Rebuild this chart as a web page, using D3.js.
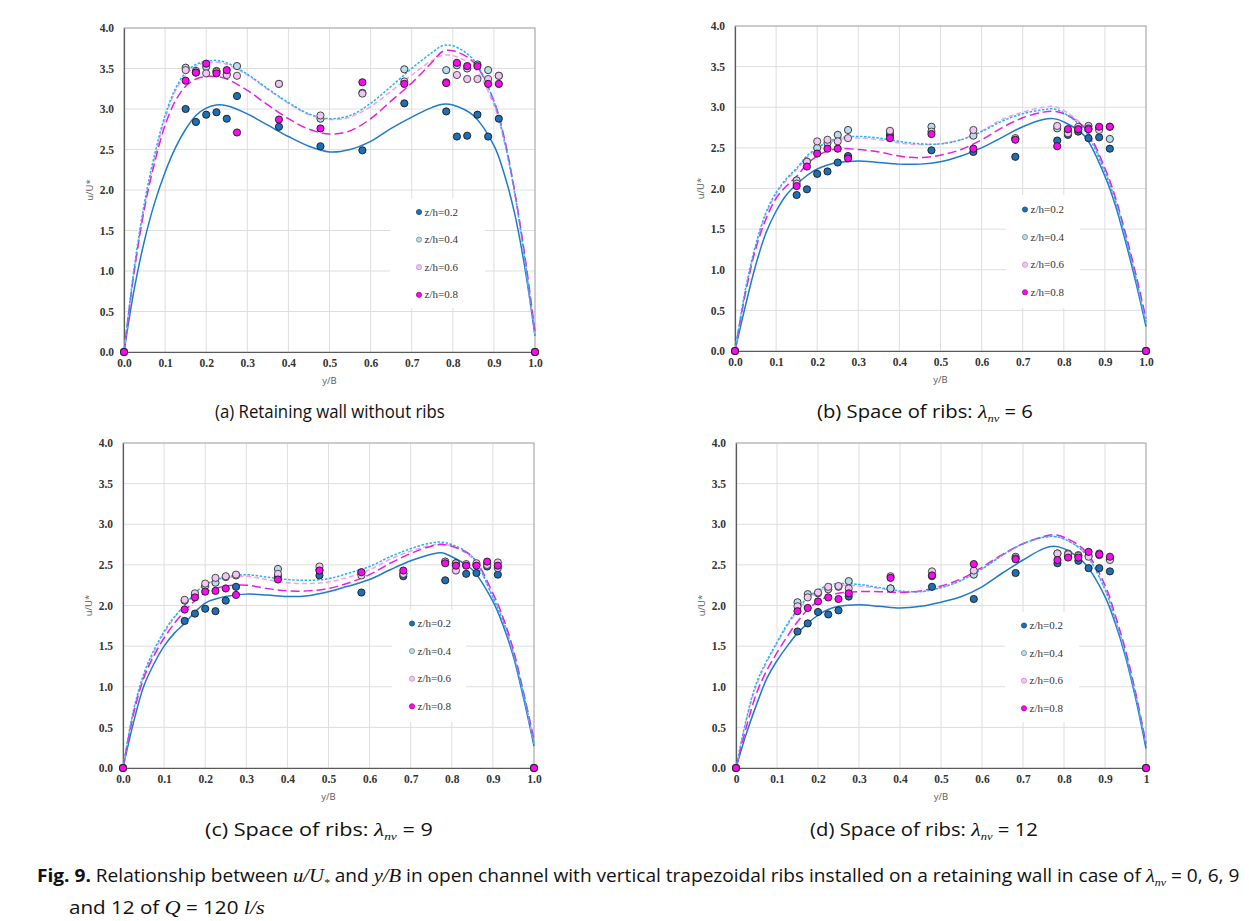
<!DOCTYPE html>
<html><head><meta charset="utf-8">
<script src="https://cdn.jsdelivr.net/npm/d3@7"></script>
<style>body{margin:0;background:#fff;} svg{display:block}</style>
</head><body>
<svg id="chart" width="1249" height="921"></svg>
<script>
// ---------------- DATA ----------------
const seriesNames = ["z/h=0.2", "z/h=0.4", "z/h=0.6", "z/h=0.8"];
const xTickValues = [0, 0.1, 0.2, 0.3, 0.4, 0.5, 0.6, 0.7, 0.8, 0.9, 1.0];
const xTickLabelsDec = ["0.0","0.1","0.2","0.3","0.4","0.5","0.6","0.7","0.8","0.9","1.0"];
const xTickLabelsInt = ["0","0.1","0.2","0.3","0.4","0.5","0.6","0.7","0.8","0.9","1"];
const yTickValues = [0, 0.5, 1.0, 1.5, 2.0, 2.5, 3.0, 3.5, 4.0];
const yTickLabels = ["0.0","0.5","1.0","1.5","2.0","2.5","3.0","3.5","4.0"];

// measured positions y/B
const pointX = [0, 0.15, 0.175, 0.2, 0.225, 0.25, 0.275, 0.377, 0.478, 0.58, 0.682, 0.784, 0.81, 0.835, 0.86, 0.886, 0.912, 1.0];

// (a) without ribs
const aPts02 = [0, 3.00, 2.84, 2.93, 2.96, 2.88, 3.16, 2.78, 2.54, 2.49, 3.07, 2.97, 2.66, 2.67, 2.93, 2.66, 2.88, 0];
const aPts04 = [0, 3.51, 3.47, 3.52, 3.47, 3.43, 3.53, 3.31, 2.88, 3.20, 3.49, 3.48, 3.54, 3.50, 3.55, 3.48, 3.41, 0];
const aPts06 = [0, 3.48, 3.45, 3.44, 3.46, 3.42, 3.41, 3.31, 2.92, 3.19, 3.34, 3.33, 3.42, 3.37, 3.37, 3.37, 3.41, 0];
const aPts08 = [0, 3.35, 3.45, 3.56, 3.44, 3.48, 2.71, 2.87, 2.76, 3.33, 3.31, 3.32, 3.57, 3.53, 3.53, 3.31, 3.31, 0];
// (b) lambda 6
const bPts02 = [0, 1.92, 1.99, 2.18, 2.21, 2.32, 2.40, 2.66, 2.47, 2.45, 2.39, 2.59, 2.66, 2.70, 2.62, 2.63, 2.49, 0];
const bPts04 = [0, 2.10, 2.33, 2.50, 2.56, 2.66, 2.72, 2.70, 2.76, 2.65, 2.61, 2.74, 2.70, 2.73, 2.77, 2.74, 2.61, 0];
const bPts06 = [0, 2.06, 2.33, 2.58, 2.60, 2.58, 2.62, 2.71, 2.70, 2.72, 2.62, 2.77, 2.68, 2.76, 2.74, 2.72, 2.76, 0];
const bPts08 = [0, 2.03, 2.27, 2.43, 2.49, 2.49, 2.37, 2.62, 2.67, 2.49, 2.60, 2.52, 2.73, 2.73, 2.73, 2.76, 2.76, 0];
// (c) lambda 9
const cPts02 = [0, 1.81, 1.90, 1.96, 1.93, 2.06, 2.23, 2.36, 2.37, 2.16, 2.36, 2.31, 2.52, 2.39, 2.40, 2.48, 2.38, 0];
const cPts04 = [0, 2.06, 2.14, 2.24, 2.28, 2.35, 2.37, 2.45, 2.44, 2.40, 2.39, 2.54, 2.52, 2.50, 2.50, 2.52, 2.46, 0];
const cPts06 = [0, 2.07, 2.15, 2.27, 2.34, 2.36, 2.38, 2.39, 2.48, 2.37, 2.39, 2.54, 2.43, 2.51, 2.52, 2.50, 2.53, 0];
const cPts08 = [0, 1.95, 2.10, 2.17, 2.18, 2.21, 2.13, 2.32, 2.43, 2.41, 2.43, 2.52, 2.49, 2.49, 2.49, 2.54, 2.49, 0];
// (d) lambda 12
const dPts02 = [0, 1.68, 1.78, 1.92, 1.89, 1.94, 2.11, 2.21, 2.23, 2.08, 2.40, 2.52, 2.60, 2.55, 2.46, 2.46, 2.42, 0];
const dPts04 = [0, 2.04, 2.14, 2.15, 2.20, 2.23, 2.30, 2.21, 2.36, 2.38, 2.60, 2.64, 2.64, 2.62, 2.61, 2.62, 2.57, 0];
const dPts06 = [0, 1.99, 2.10, 2.16, 2.23, 2.24, 2.21, 2.36, 2.42, 2.43, 2.58, 2.64, 2.63, 2.61, 2.60, 2.64, 2.56, 0];
const dPts08 = [0, 1.93, 1.97, 2.05, 2.10, 2.08, 2.15, 2.34, 2.37, 2.51, 2.57, 2.56, 2.59, 2.59, 2.66, 2.63, 2.60, 0];

// fitted curves, read at these y/B positions
const fitX = [0, 0.025, 0.05, 0.075, 0.1, 0.125, 0.15, 0.175, 0.2, 0.225, 0.25, 0.3, 0.35, 0.4, 0.45, 0.5, 0.55, 0.6, 0.65, 0.7, 0.75, 0.775, 0.8, 0.85, 0.9, 0.925, 0.95, 0.975, 1.0];
const aFit02 = [0, 0.78, 1.38, 1.85, 2.22, 2.52, 2.75, 2.92, 3.01, 3.05, 3.04, 2.94, 2.80, 2.66, 2.54, 2.47, 2.50, 2.60, 2.76, 2.90, 3.02, 3.06, 3.05, 2.92, 2.55, 2.20, 1.72, 1.05, 0.20];
const aFit04 = [0, 1.05, 1.85, 2.45, 2.92, 3.25, 3.45, 3.55, 3.59, 3.60, 3.57, 3.43, 3.25, 3.08, 2.94, 2.88, 2.92, 3.07, 3.28, 3.50, 3.70, 3.78, 3.78, 3.61, 3.09, 2.62, 1.98, 1.15, 0.20];
const aFit06 = [0, 1.00, 1.80, 2.40, 2.88, 3.22, 3.42, 3.53, 3.57, 3.58, 3.55, 3.42, 3.24, 3.07, 2.93, 2.87, 2.90, 3.03, 3.22, 3.42, 3.60, 3.66, 3.66, 3.52, 3.05, 2.60, 1.98, 1.15, 0.20];
const aFit08 = [0, 1.00, 1.78, 2.35, 2.80, 3.10, 3.28, 3.37, 3.40, 3.40, 3.37, 3.23, 3.05, 2.88, 2.75, 2.69, 2.73, 2.88, 3.10, 3.32, 3.58, 3.71, 3.72, 3.58, 3.10, 2.65, 2.00, 1.20, 0.25];

const bFit02 = [0, 0.55, 1.05, 1.45, 1.72, 1.92, 2.05, 2.16, 2.24, 2.29, 2.32, 2.34, 2.32, 2.30, 2.30, 2.33, 2.40, 2.50, 2.63, 2.76, 2.85, 2.86, 2.82, 2.65, 2.15, 1.80, 1.35, 0.85, 0.30];
const bFit04 = [0, 0.75, 1.30, 1.70, 1.95, 2.12, 2.25, 2.40, 2.50, 2.57, 2.62, 2.64, 2.62, 2.58, 2.55, 2.55, 2.60, 2.70, 2.83, 2.92, 2.97, 2.98, 2.93, 2.72, 2.20, 1.85, 1.40, 0.90, 0.35];
const bFit06 = [0, 0.72, 1.28, 1.68, 1.93, 2.10, 2.23, 2.38, 2.48, 2.55, 2.60, 2.62, 2.60, 2.56, 2.54, 2.55, 2.60, 2.71, 2.85, 2.94, 3.00, 3.01, 2.96, 2.75, 2.22, 1.87, 1.42, 0.92, 0.35];
const bFit08 = [0, 0.70, 1.25, 1.62, 1.88, 2.03, 2.15, 2.30, 2.40, 2.46, 2.49, 2.48, 2.45, 2.40, 2.38, 2.41, 2.48, 2.60, 2.75, 2.87, 2.94, 2.95, 2.92, 2.75, 2.25, 1.90, 1.45, 0.95, 0.40];

const cFit02 = [0, 0.55, 1.00, 1.28, 1.50, 1.66, 1.78, 1.92, 2.03, 2.08, 2.11, 2.14, 2.13, 2.11, 2.12, 2.17, 2.24, 2.32, 2.44, 2.55, 2.63, 2.65, 2.60, 2.44, 2.05, 1.75, 1.37, 0.85, 0.27];
const cFit04 = [0, 0.70, 1.15, 1.45, 1.68, 1.86, 2.00, 2.15, 2.26, 2.31, 2.35, 2.38, 2.35, 2.32, 2.31, 2.33, 2.40, 2.48, 2.60, 2.70, 2.77, 2.78, 2.75, 2.60, 2.10, 1.80, 1.40, 0.90, 0.30];
const cFit06 = [0, 0.68, 1.12, 1.42, 1.66, 1.85, 2.00, 2.15, 2.25, 2.31, 2.34, 2.36, 2.32, 2.28, 2.27, 2.29, 2.35, 2.44, 2.57, 2.67, 2.74, 2.76, 2.73, 2.58, 2.10, 1.82, 1.42, 0.90, 0.30];
const cFit08 = [0, 0.65, 1.10, 1.38, 1.60, 1.78, 1.93, 2.06, 2.16, 2.21, 2.24, 2.25, 2.21, 2.18, 2.18, 2.21, 2.28, 2.38, 2.52, 2.64, 2.73, 2.75, 2.73, 2.60, 2.15, 1.85, 1.45, 0.92, 0.35];

const dFit02 = [0, 0.42, 0.78, 1.10, 1.32, 1.50, 1.66, 1.78, 1.88, 1.95, 1.99, 2.01, 1.99, 1.97, 1.99, 2.04, 2.11, 2.23, 2.40, 2.56, 2.70, 2.73, 2.70, 2.52, 2.11, 1.78, 1.37, 0.85, 0.24];
const dFit04 = [0, 0.60, 1.05, 1.32, 1.55, 1.77, 1.95, 2.10, 2.19, 2.25, 2.27, 2.26, 2.22, 2.18, 2.17, 2.22, 2.31, 2.45, 2.62, 2.76, 2.84, 2.85, 2.82, 2.65, 2.20, 1.82, 1.40, 0.88, 0.30];
const dFit06 = [0, 0.58, 1.02, 1.30, 1.53, 1.75, 1.93, 2.08, 2.17, 2.23, 2.25, 2.24, 2.21, 2.17, 2.17, 2.22, 2.31, 2.45, 2.62, 2.76, 2.84, 2.85, 2.82, 2.65, 2.20, 1.83, 1.42, 0.90, 0.30];
const dFit08 = [0, 0.50, 0.92, 1.20, 1.42, 1.62, 1.80, 1.95, 2.05, 2.11, 2.15, 2.17, 2.17, 2.16, 2.18, 2.24, 2.33, 2.47, 2.63, 2.76, 2.85, 2.87, 2.84, 2.68, 2.25, 1.88, 1.45, 0.92, 0.30];

// captions (rich text parts)
const capA = [{t: "(a)  Retaining wall without ribs"}];
const capB = [{t: "(b) Space of ribs: "}, {t: "λ", m: 1}, {t: "nv", m: 1, sub: 1}, {t: " = 6"}];
const capC = [{t: "(c) Space of ribs: "}, {t: "λ", m: 1}, {t: "nv", m: 1, sub: 1}, {t: " = 9"}];
const capD = [{t: "(d) Space of ribs: "}, {t: "λ", m: 1}, {t: "nv", m: 1, sub: 1}, {t: " = 12"}];
const figLine1 = [{t: "Fig. 9.", b: 1}, {t: " Relationship between "}, {t: "u/U", m: 1}, {t: "*", m: 1, sub: 1}, {t: " and "}, {t: "y/B", m: 1}, {t: " in open channel with vertical trapezoidal ribs installed on a retaining wall in case of "}, {t: "λ", m: 1}, {t: "nv", m: 1, sub: 1}, {t: " = 0, 6, 9"}];
const figLine2 = [{t: "and 12 of "}, {t: "Q", m: 1}, {t: " = 120 "}, {t: "l/s", m: 1}];

// ---------------- STYLE / LAYOUT ----------------
const markerFill = ["#1f6fb4", "#b9dde9", "#f2c6f2", "#fa0af0"];
const markerStroke = ["#1a1a1a", "#2a2a2a", "#3a3a3a", "#1a1a1a"];
const legendStroke = ["#174f85", "#6f8f99", "#c98ad0", "#b0009a"];
const lineColor = ["#1f7ac8", "#22b4f0", "#efa2ef", "#e61ee6"];
const lineDash = [null, "2.5,1.6", "5,3", "9,4"];

const panels = [
  {pts: [aPts02, aPts04, aPts06, aPts08], fits: [aFit02, aFit04, aFit06, aFit08], xl: xTickLabelsDec, cap: capA,
   box: {x0: 124, x1: 535, y0: 28, y1: 352}, leg: {mx: 419, my: 212, bx: 390, by: 198, bw: 95, bh: 110}, capPos: {cx: 330, y: 418, w: 230}},
  {pts: [bPts02, bPts04, bPts06, bPts08], fits: [bFit02, bFit04, bFit06, bFit08], xl: xTickLabelsDec, cap: capB,
   box: {x0: 735, x1: 1146, y0: 26, y1: 351}, leg: {mx: 1025, my: 209.5, bx: 1006, by: 195, bw: 74, bh: 113}, capPos: {cx: 925, y: 418, w: 216}},
  {pts: [cPts02, cPts04, cPts06, cPts08], fits: [cFit02, cFit04, cFit06, cFit08], xl: xTickLabelsDec, cap: capC,
   box: {x0: 123, x1: 534, y0: 443, y1: 768}, leg: {mx: 412, my: 623.5, bx: 392, by: 610, bw: 74, bh: 112}, capPos: {cx: 319, y: 836, w: 228}},
  {pts: [dPts02, dPts04, dPts06, dPts08], fits: [dFit02, dFit04, dFit06, dFit08], xl: xTickLabelsInt, cap: capD,
   box: {x0: 736, x1: 1146, y0: 443, y1: 768}, leg: {mx: 1024, my: 625.5, bx: 1005, by: 612, bw: 74, bh: 110}, capPos: {cx: 924, y: 836, w: 228}}
];

const tickFont = "'Liberation Serif', 'Times New Roman', serif";
const sansFont = "'Open Sans', 'Noto Sans', sans-serif";
const mathFont = "'Liberation Serif', 'DejaVu Serif', serif";

const svg = d3.select("#chart");

panels.forEach(p => {
  const B = p.box;
  const x = d3.scaleLinear().domain([0, 1]).range([B.x0, B.x1]);
  const y = d3.scaleLinear().domain([0, 4]).range([B.y1, B.y0]);
  const g = svg.append("g");

  // grid
  g.append("g").selectAll("line.v").data(xTickValues.slice(1)).join("line")
    .attr("x1", d => x(d)).attr("x2", d => x(d)).attr("y1", B.y0).attr("y2", B.y1)
    .attr("stroke", "#dedede").attr("stroke-width", 1);
  g.append("g").selectAll("line.h").data(yTickValues.slice(1)).join("line")
    .attr("x1", B.x0).attr("x2", B.x1).attr("y1", d => y(d)).attr("y2", d => y(d))
    .attr("stroke", "#dedede").attr("stroke-width", 1);
  // frame
  g.append("rect").attr("x", B.x0).attr("y", B.y0).attr("width", B.x1 - B.x0).attr("height", B.y1 - B.y0)
    .attr("fill", "none").attr("stroke", "#a8a8a8").attr("stroke-width", 1);

  // axes
  const yAxis = d3.axisLeft(y).tickValues(yTickValues).tickSize(0).tickPadding(10)
    .tickFormat((d, i) => yTickLabels[i]);
  const ya = g.append("g").attr("transform", `translate(${B.x0},0)`).call(yAxis);
  ya.select(".domain").attr("stroke", "#5a5a5a").attr("stroke-width", 1.2);
  ya.selectAll("text").attr("font-family", tickFont).attr("font-size", 11.5).attr("fill", "#333").attr("font-weight", "bold");

  const xAxis = d3.axisBottom(x).tickValues(xTickValues).tickSize(0).tickPadding(7)
    .tickFormat((d, i) => p.xl[i]);
  const xa = g.append("g").attr("transform", `translate(0,${B.y1})`).call(xAxis);
  xa.select(".domain").attr("stroke", "#5a5a5a").attr("stroke-width", 1.2);
  xa.selectAll("text").attr("font-family", tickFont).attr("font-size", 11.5).attr("fill", "#333").attr("font-weight", "bold");

  // axis titles
  g.append("text").attr("x", (B.x0 + B.x1) / 2).attr("y", B.y1 + 32).attr("text-anchor", "middle")
    .attr("font-family", sansFont).attr("font-size", 9.5).attr("fill", "#595959").text("y/B");
  g.append("text").attr("transform", `translate(${B.x0 - 31},${(B.y0 + B.y1) / 2}) rotate(-90)`)
    .attr("text-anchor", "middle").attr("font-family", sansFont).attr("font-size", 9.5).attr("fill", "#595959").text("u/U*");

  // legend background (hides grid)
  g.append("rect").attr("x", p.leg.bx).attr("y", p.leg.by).attr("width", p.leg.bw).attr("height", p.leg.bh).attr("fill", "#fff");

  // fitted lines
  const line = d3.line().x((d, i) => x(fitX[i])).y(d => y(d)).curve(d3.curveCatmullRom.alpha(0.5));
  [0, 2, 3, 1].forEach(k => {
    g.append("path").datum(p.fits[k]).attr("d", line)
      .attr("fill", "none").attr("stroke", lineColor[k]).attr("stroke-width", 1.5)
      .attr("stroke-dasharray", lineDash[k]);
  });

  // points
  p.pts.forEach((arr, k) => {
    g.append("g").selectAll("circle").data(arr).join("circle")
      .attr("cx", (d, i) => x(pointX[i])).attr("cy", d => y(d)).attr("r", 3.6)
      .attr("fill", markerFill[k]).attr("stroke", markerStroke[k]).attr("stroke-width", 0.9);
  });

  // legend
  seriesNames.forEach((name, k) => {
    const ly = p.leg.my + k * 27.6;
    g.append("circle").attr("cx", p.leg.mx).attr("cy", ly).attr("r", 2.6)
      .attr("fill", markerFill[k]).attr("stroke", legendStroke[k]).attr("stroke-width", 0.8);
    g.append("text").attr("x", p.leg.mx + 5.5).attr("y", ly + 3.6)
      .attr("font-family", tickFont).attr("font-size", 11).attr("fill", "#333").text(name);
  });

  // caption
  richText(svg, p.cap, p.capPos.cx, p.capPos.y, p.capPos.w, 18, "middle");
});

richText(svg, figLine1, 37, 882, 1203, 18, "start");
richText(svg, figLine2, 69, 914, 196, 18, "start");

function richText(parent, parts, x, y, targetW, size, anchor) {
  const t = parent.append("text").attr("font-family", sansFont).attr("font-size", size).attr("fill", "#111");
  let subOn = false;
  parts.forEach(pt => {
    const s = t.append("tspan").text(pt.t);
    if (pt.m) s.attr("font-family", mathFont).attr("font-style", "italic").attr("font-size", size * 1.08);
    if (pt.b) s.attr("font-weight", "bold");
    if (pt.sub && !subOn) { s.attr("dy", 4).attr("font-size", size * 0.62); subOn = true; }
    else if (pt.sub) { s.attr("font-size", size * 0.62); }
    else if (subOn) { s.attr("dy", -4); subOn = false; }
  });
  const w = t.node().getComputedTextLength();
  const sx = targetW / w;
  const x0 = anchor === "middle" ? x - targetW / 2 : x;
  t.attr("transform", `translate(${x0},${y}) scale(${sx},1)`);
}
</script>
</body></html>
